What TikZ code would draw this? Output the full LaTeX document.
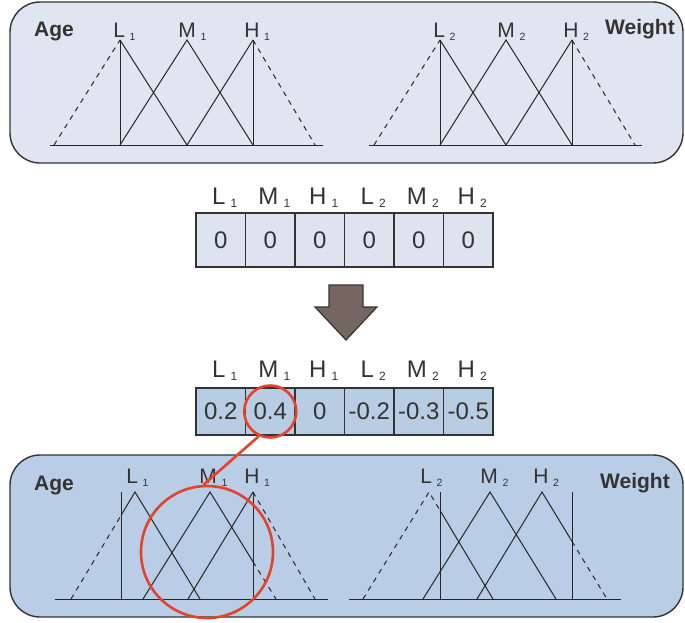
\documentclass[tikz,border=0pt]{standalone}
\usepackage{fontspec}
\setmainfont{Liberation Sans}
\usetikzlibrary{calc}
\definecolor{panelA}{HTML}{DFE5F1}
\definecolor{panelB}{HTML}{B9CDE6}
\definecolor{cellA}{HTML}{DDE3EF}
\definecolor{cellB}{HTML}{B8CCE4}
\definecolor{txt}{HTML}{333333}
\definecolor{redc}{HTML}{E2432A}
\definecolor{arrowfill}{HTML}{766661}
\definecolor{arrowline}{HTML}{3A3230}
\newcommand\fz[2]{#1\kern0.22em\raisebox{-0.3ex}{\scalebox{0.5}{#2}}}
\tikzset{
  panel/.style={draw=txt, line width=0.7pt, rounded corners=15pt},
  mf/.style={line width=0.5pt, draw=black!85},
  mfd/.style={mf, dash pattern=on 2.5pt off 2.5pt},
  setlbl/.style={text=txt, inner sep=0pt, font=\fontsize{10.5}{12}\selectfont},
  axislbl/.style={text=txt, inner sep=0pt, font=\fontsize{10.5}{12}\selectfont\bfseries},
  collbl/.style={text=txt, inner sep=0pt, font=\fontsize{12}{14}\selectfont},
  cellstyle/.style={draw=txt, line width=0.6pt, minimum width=24.75pt, inner sep=0pt,
     text=txt, font=\fontsize{12}{14}\selectfont},
  redring/.style={circle, draw=redc, line width=1.3pt, inner sep=0pt},
}
\begin{document}
\begin{tikzpicture}[x=0.5pt,y=-0.5pt]
\useasboundingbox (0,0) rectangle (685,622);
% panels
\draw[panel, fill=panelA] (10,2) rectangle (683,163);
\draw[panel, fill=panelB] (10,455) rectangle (683,617);

% ---- top left membership functions
\draw[mf] (50,145) -- (323,145);
\draw[mfd] (54,145) -- (120,40);
\draw[mf] (120,40) -- (120,145);
\draw[mf] (120,40) -- (187,145);
\draw[mf] (120,145) -- (187,40) -- (253,145);
\draw[mf] (187,145) -- (253,40);
\draw[mf] (253,40) -- (253,145);
\draw[mfd] (253,40) -- (315,145);
% ---- top right
\draw[mf] (369,145) -- (642,145);
\draw[mfd] (374,145) -- (440,40);
\draw[mf] (440,40) -- (440,145);
\draw[mf] (440,40) -- (506,145);
\draw[mf] (440,145) -- (506,40) -- (572,145);
\draw[mf] (506,145) -- (572,40);
\draw[mf] (572,40) -- (572,145);
\draw[mfd] (572,40) -- (635,145);

\node[axislbl] (ageA) at (54,31) {Age};
\node[axislbl] (wA) at (640,29) {Weight};
\node[setlbl, anchor=base west] (tL1) at (113,37) {\fz{L}{1}};
\node[setlbl, anchor=base west] (tM1) at (178,37) {\fz{M}{1}};
\node[setlbl, anchor=base west] (tH1) at (244,37) {\fz{H}{1}};
\node[setlbl, anchor=base west] (tL2) at (433,37) {\fz{L}{2}};
\node[setlbl, anchor=base west] (tM2) at (497,37) {\fz{M}{2}};
\node[setlbl, anchor=base west] (tH2) at (563,37) {\fz{H}{2}};

% ---- table 1
\foreach \i/\x/\l/\s in {1/220.75/L/1,2/270.25/M/1,3/319.75/H/1,4/369.25/L/2,5/418.75/M/2,6/468.25/H/2}{
  \node[cellstyle, fill=cellA, minimum height=27pt] (a\i) at (\x,240) {0};
  \node[collbl, anchor=base] (la\i) at (\x+4,204) {\fz{\l}{\s}};
}

% ---- arrow
\draw[fill=arrowfill, draw=arrowline, line width=0.6pt, line join=miter]
  (329,285) -- (363,285) -- (363,307) -- (377,307) -- (346,340) -- (315,307) -- (329,307) -- cycle;

% ---- table 2
\foreach \i/\x/\l/\s/\v in {1/220.75/L/1/0.2,2/270.25/M/1/0.4,3/319.75/H/1/0,4/369.25/L/2/-0.2,5/418.75/M/2/-0.3,6/468.25/H/2/-0.5}{
  \node[cellstyle, fill=cellB, minimum height=23.5pt] (b\i) at (\x,411.5) {\v};
  \node[collbl, anchor=base] (lb\i) at (\x+4,377) {\fz{\l}{\s}};
}

% ---- bottom left
\draw[mf] (55,599) -- (328,599);
\draw[mf] (121,492) -- (121,599);
\draw[mf] (253,492) -- (253,599);
\draw[mfd] (71,599) -- (121,515.4);
\draw[mf] (121,515.4) -- (135,492) -- (200,599);
\draw[mf] (143,599) -- (210,492) -- (253,561.7);
\draw[mfd] (253,561.7) -- (276,599);
\draw[mf] (188,599) -- (253,492);
\draw[mfd] (253,492) -- (315,599);
% ---- bottom right
\draw[mf] (349,599) -- (621,599);
\draw[mf] (440,492) -- (440,599);
\draw[mf] (572,492) -- (572,599);
\draw[mfd] (363,599) -- (429,492) -- (440,510.4);
\draw[mf] (440,510.4) -- (493,599);
\draw[mf] (423,599) -- (490,492) -- (556,599);
\draw[mf] (477,599) -- (542,492) -- (572,541.4);
\draw[mfd] (572,541.4) -- (607,599);

\node[axislbl] (ageB) at (54,485) {Age};
\node[axislbl] (wB) at (635,483) {Weight};
\node[setlbl, anchor=base west] (bL1) at (126,483) {\fz{L}{1}};
\node[setlbl, anchor=base west] (bM1) at (199,483) {\fz{M}{1}};
\node[setlbl, anchor=base west] (bH1) at (244,483) {\fz{H}{1}};
\node[setlbl, anchor=base west] (bL2) at (420,483) {\fz{L}{2}};
\node[setlbl, anchor=base west] (bM2) at (480,483) {\fz{M}{2}};
\node[setlbl, anchor=base west] (bH2) at (533,483) {\fz{H}{2}};

% ---- red highlight
\node[redring, minimum size=26pt] (c1) at (b2) {};
\node[redring, minimum size=66pt] (c2) at (207,552) {};
\draw[redc, line width=1.3pt] (c1.245) -- (c2.93);
\end{tikzpicture}
\end{document}
